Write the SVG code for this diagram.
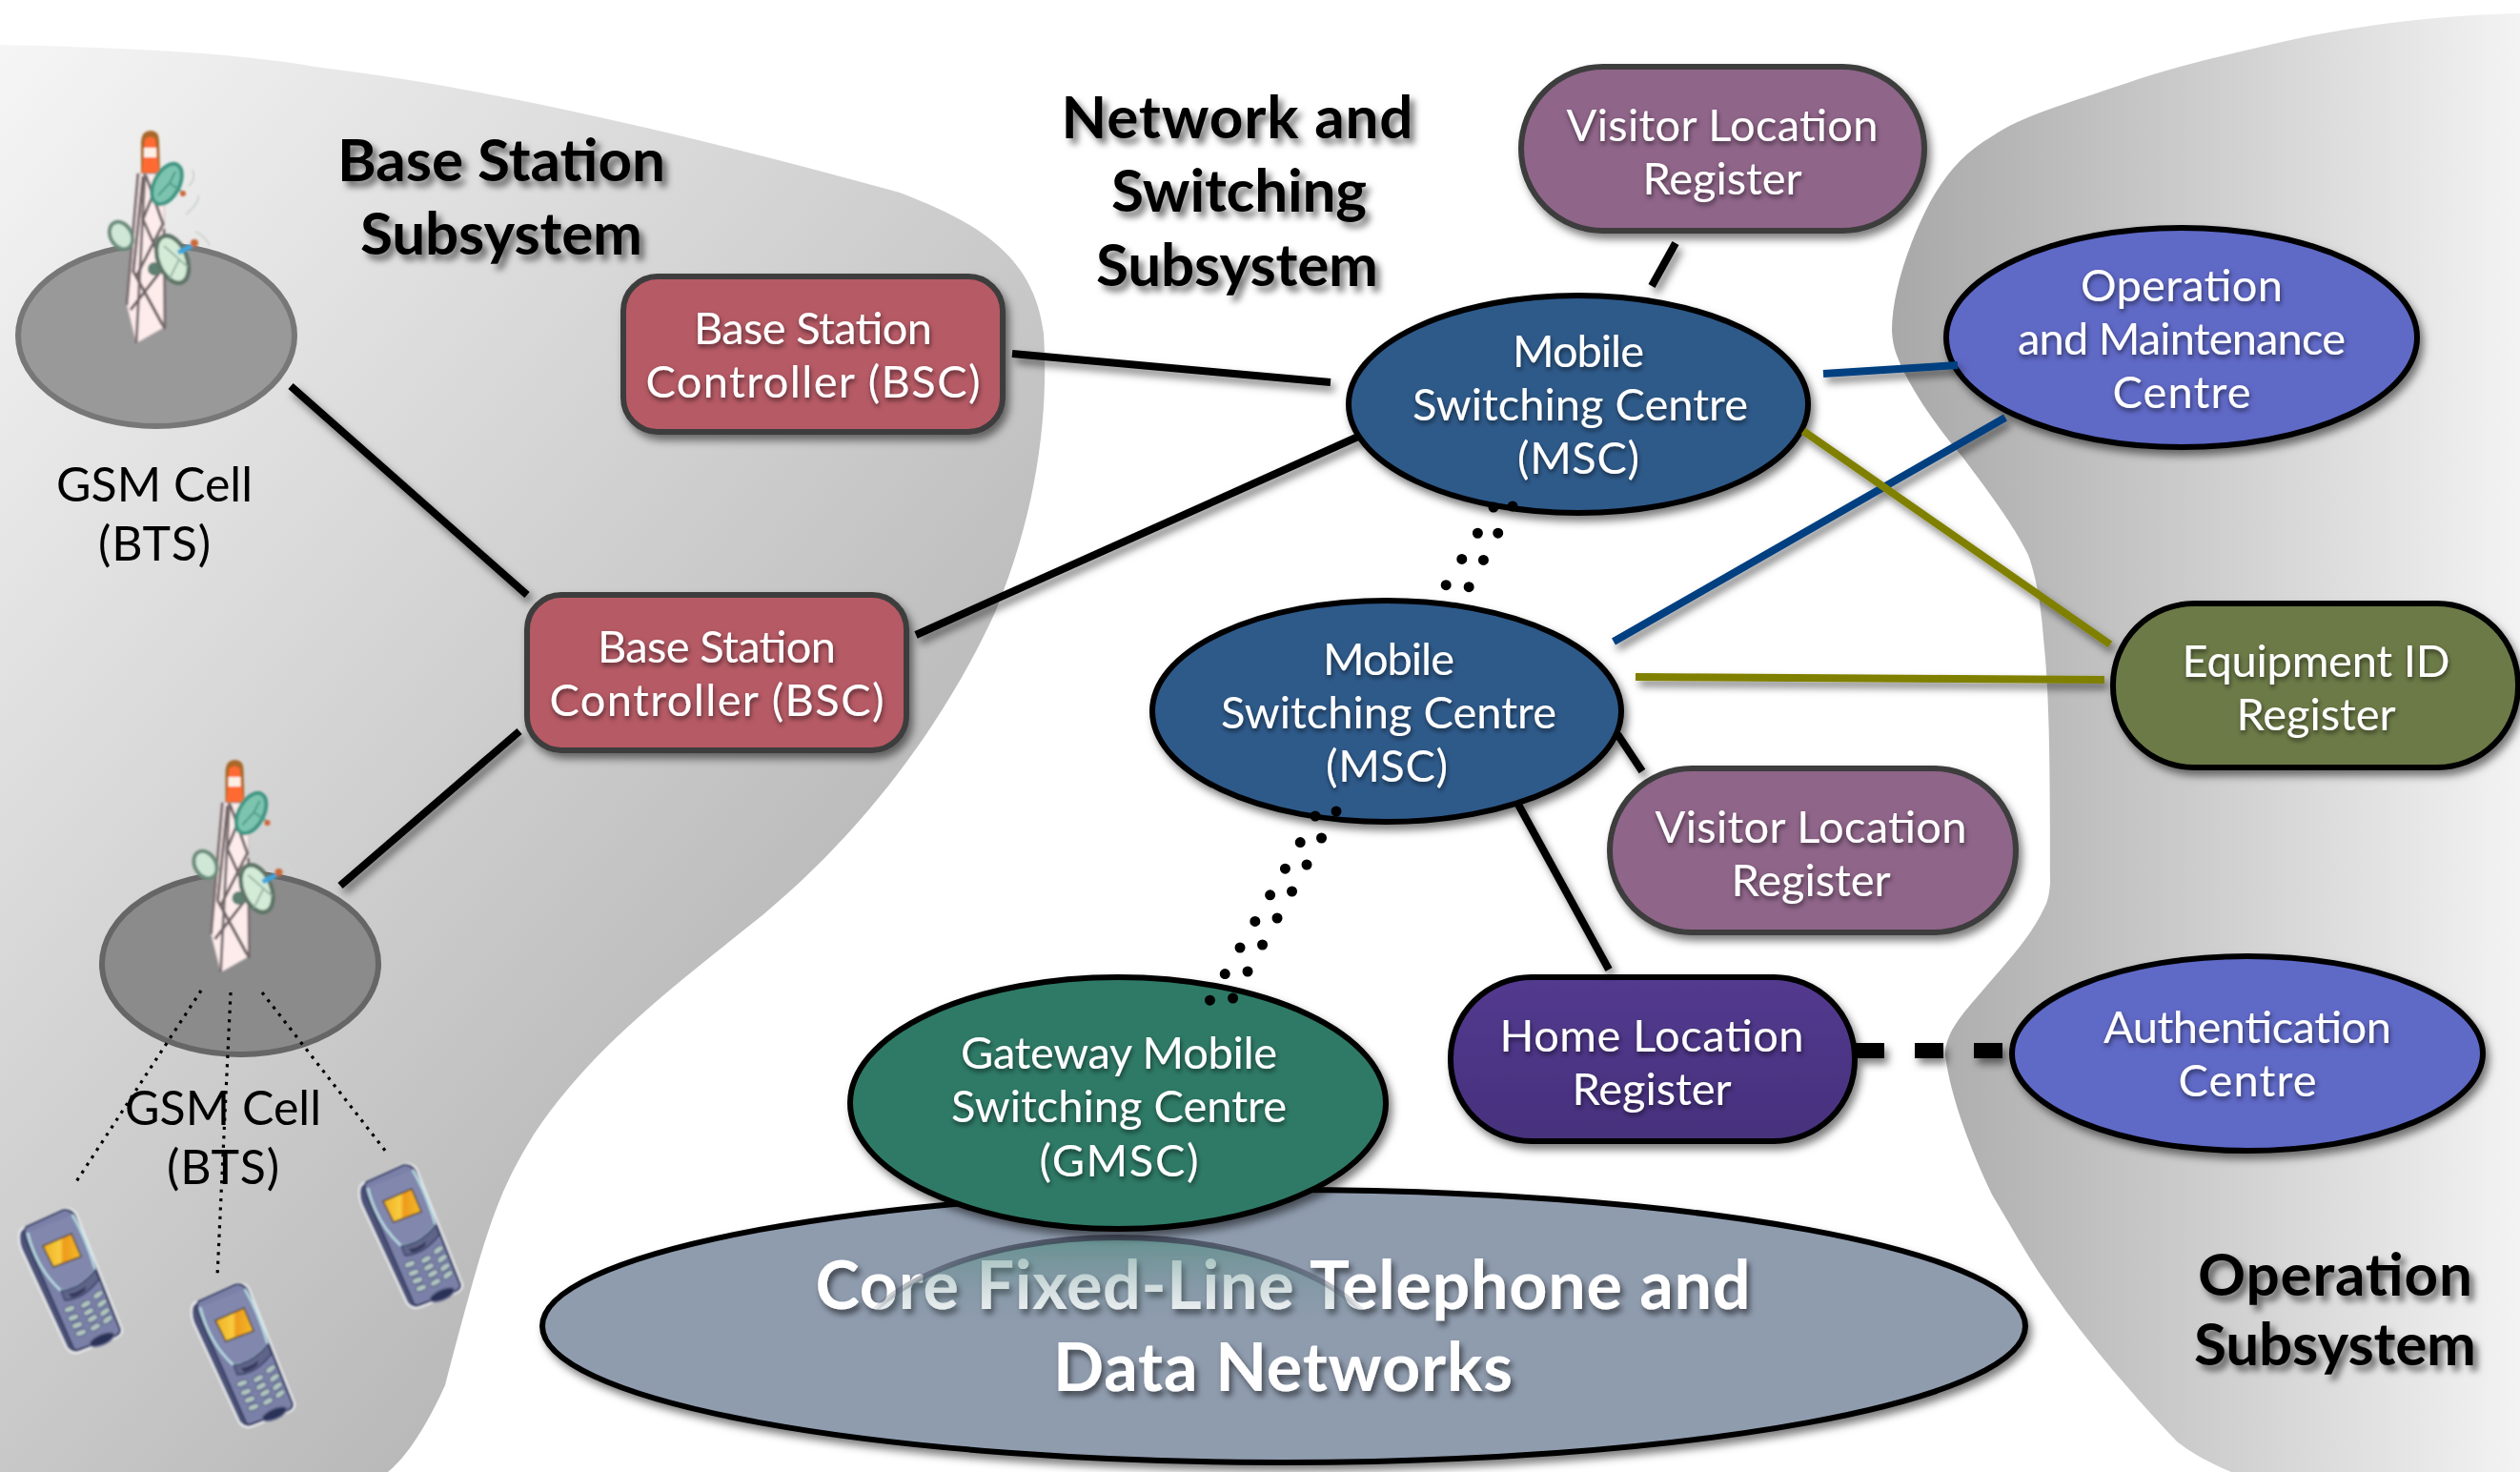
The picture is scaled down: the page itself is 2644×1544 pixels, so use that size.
<svg xmlns="http://www.w3.org/2000/svg" width="2644" height="1544" viewBox="0 0 2644 1544">
<style>
text{font-family:"Lato","Open Sans","Liberation Sans",sans-serif;text-anchor:middle}
.lb{font-size:47px;fill:#fff;filter:url(#ts)}
.hd{font-size:62px;font-weight:700;fill:#000;filter:url(#hs)}
.cell{font-size:50px;fill:#000}
.core{font-size:70px;font-weight:700;fill:#fff;filter:url(#hs2)}
.n{filter:url(#ds)}
.s1{stroke:#3c3c3c;stroke-width:6}
.s2{stroke:#000;stroke-width:6}
.k{stroke:#000;stroke-width:8;fill:none}
.b{stroke:#003f80;stroke-width:8;fill:none}
.o{stroke:#808000;stroke-width:8;fill:none}
.d{stroke:#000;stroke-width:11;stroke-linecap:round;fill:none}
.t{stroke:#000;stroke-width:3.2;stroke-dasharray:3.2 6.2;fill:none}
</style>
<defs>
<linearGradient id="gl" gradientUnits="userSpaceOnUse" x1="0" y1="60" x2="1120" y2="1020"><stop offset="0" stop-color="#f5f5f5"/><stop offset="1" stop-color="#b0b0b0"/></linearGradient>
<linearGradient id="gr" gradientUnits="userSpaceOnUse" x1="1985" y1="0" x2="2644" y2="0"><stop offset="0" stop-color="#a8a8a8"/><stop offset="1" stop-color="#f3f3f3"/></linearGradient>
<linearGradient id="hl" x1="0" y1="0" x2="0" y2="1"><stop offset="0" stop-color="#533a8f"/><stop offset="1" stop-color="#46307c"/></linearGradient>
<linearGradient id="rf" gradientUnits="userSpaceOnUse" x1="0" y1="1298" x2="0" y2="1400"><stop offset="0" stop-color="#4f8c80" stop-opacity=".65"/><stop offset="1" stop-color="#8d9aac" stop-opacity="0"/></linearGradient>
<linearGradient id="rs" gradientUnits="userSpaceOnUse" x1="0" y1="1298" x2="0" y2="1385"><stop offset="0" stop-color="#3c4052" stop-opacity=".8"/><stop offset="1" stop-color="#3c4052" stop-opacity="0"/></linearGradient>
<linearGradient id="scr" x1="0" y1="0" x2="1" y2="0"><stop offset="0" stop-color="#f0b022"/><stop offset=".45" stop-color="#f8cc40"/><stop offset=".55" stop-color="#ee9a1c"/><stop offset="1" stop-color="#f3bd2c"/></linearGradient>
<filter id="ds" filterUnits="userSpaceOnUse" x="0" y="0" width="2644" height="1544"><feDropShadow dx="4" dy="6" stdDeviation="4" flood-color="#000" flood-opacity=".5"/></filter>
<filter id="ts" x="-10%" y="-30%" width="120%" height="170%"><feDropShadow dx="1" dy="3" stdDeviation="2.5" flood-color="#000" flood-opacity=".55"/></filter>
<filter id="hs" x="-10%" y="-30%" width="125%" height="170%"><feDropShadow dx="5" dy="6" stdDeviation="3.5" flood-color="#000" flood-opacity=".55"/></filter>
<filter id="hs2" x="-5%" y="-30%" width="110%" height="170%"><feDropShadow dx="3" dy="5" stdDeviation="3" flood-color="#000" flood-opacity=".55"/></filter>
<filter id="bl" x="-20%" y="-20%" width="140%" height="140%"><feGaussianBlur stdDeviation=".8"/></filter>
<g id="tower" filter="url(#bl)">
<path d="M148 182 L148 148 Q149 137 158 137 Q167 137 167 148 L168 182 Z" fill="#a8682a"/>
<path d="M149 181 L152 146 Q158 141 163 146 L167 181 Z" fill="#ff6b30"/>
<rect x="151" y="155" width="13" height="10" fill="#fbf0e6"/>
<polygon points="145,182 172,183 173,343 143,360 133,320" fill="#fdeceb" stroke="#c9bcbc" stroke-width="1"/>
<path d="M145 182 L133 320 M152 182 L143 360 M172 240 L173 343" stroke="#7c7073" stroke-width="3" fill="none"/>
<path d="M153 184 L171 235 L143 290 L173 345 M168 186 L150 230 L172 280 L137 325 M150 185 L140 285 L170 340" stroke="#6f6466" stroke-width="3" fill="none"/>
<ellipse cx="175" cy="193" rx="13" ry="23" transform="rotate(28 175 193)" fill="#7cc4af" stroke="#3f9583" stroke-width="4"/>
<path d="M166 205 L178 192 L184 180 M178 192 L192 202" stroke="#4d9c8a" stroke-width="2" fill="none"/>
<circle cx="192" cy="203" r="3" fill="#d0663a"/>
<ellipse cx="127" cy="247" rx="11" ry="15" transform="rotate(-30 127 247)" fill="#cfe7d6" stroke="#6d8d7d" stroke-width="4"/>
<circle cx="162" cy="282" r="7" fill="#5f7f72"/>
<ellipse cx="181" cy="272" rx="15" ry="26" transform="rotate(-22 181 272)" fill="#d3ebd7" stroke="#5f7567" stroke-width="4.5"/>
<path d="M172 258 L188 272 L178 292 M188 272 L197 280" stroke="#9cb5a6" stroke-width="2" fill="none"/>
<line x1="187" y1="265" x2="201" y2="258" stroke="#3ea5dc" stroke-width="5"/>
<circle cx="204" cy="255" r="4" fill="#c96a3a"/>
<path d="M198 195 Q206 188 202 178 M195 225 Q210 212 208 205 M205 243 Q216 248 220 258" stroke="#cfd6cf" stroke-width="2" fill="none"/>
</g>
<g id="phone" filter="url(#bl)">
<path d="M0 27 Q0 22 6 19 L46 0 Q56 -1 60 5 L108 126 Q109 132 102 135 L64 150 Q56 153 50 146 L2 42 Q-1 33 0 27Z" fill="#4e5378" stroke="#eef0f4" stroke-width="2"/>
<path d="M7 19 L46 1 Q55 0 58 7 L106 127 Q106 131 100 134 L62 148 Q58 149 56 144 L8 34 Q4 24 7 19Z" fill="#7a80a8" stroke="#353c60" stroke-width="2"/>
<path d="M9 25 Q18 62 44 86 Q64 84 80 64 Q70 30 56 6" fill="#8187ad" stroke="#b9dde2" stroke-width="2.5"/>
<path d="M44 86 Q64 84 80 64 L84 74 Q68 95 48 96 Z" fill="#5f6588" stroke="#39406a" stroke-width="1.5"/>
<path d="M52 89 Q62 88 70 81 L69 86 Q60 93 55 93Z" fill="#34385a"/>
<polygon points="25,39 55,26 65,50 36,61" fill="url(#scr)" stroke="#5a4a20" stroke-width="1.5"/>
<g fill="#b0c4c0" stroke="#4c5478" stroke-width="1"><ellipse cx="53" cy="105" rx="6" ry="3.2" transform="rotate(-20 53 105)"/><ellipse cx="70" cy="100" rx="6" ry="3.2" transform="rotate(-30 70 100)"/><ellipse cx="83" cy="90" rx="6" ry="3.2" transform="rotate(-35 83 90)"/><ellipse cx="57" cy="114" rx="6" ry="3.2" transform="rotate(-20 57 114)"/><ellipse cx="73" cy="108" rx="6" ry="3.2" transform="rotate(-30 73 108)"/><ellipse cx="87" cy="99" rx="6" ry="3.2" transform="rotate(-35 87 99)"/><ellipse cx="61" cy="122" rx="6" ry="3.2" transform="rotate(-20 61 122)"/><ellipse cx="77" cy="115" rx="6" ry="3.2" transform="rotate(-30 77 115)"/><ellipse cx="90" cy="108" rx="6" ry="3.2" transform="rotate(-35 90 108)"/><ellipse cx="65" cy="130" rx="6" ry="3.2" transform="rotate(-20 65 130)"/><ellipse cx="80" cy="124" rx="6" ry="3.2" transform="rotate(-30 80 124)"/><ellipse cx="93" cy="116" rx="6" ry="3.2" transform="rotate(-35 93 116)"/></g>
<ellipse cx="87" cy="137" rx="14" ry="5.5" transform="rotate(-24 87 137)" fill="#2c3058" stroke="#6a7094" stroke-width="1.5"/>
</g>
</defs>
<rect width="2644" height="1544" fill="#fff"/>
<g id="regions">
<path id="region-bss" fill="url(#gl)" d="M0 47 C130 50 250 55 337 71 C500 90 720 140 944 202 C1030 235 1085 270 1095 350 C1100 430 1090 530 1045 640 C1000 740 920 860 800 960 C700 1040 620 1100 560 1190 C520 1255 510 1290 467 1453 C450 1490 430 1525 407 1544 L0 1544 Z" />
<path id="region-oss" fill="url(#gr)" d="M2644 14 C2560 16 2490 25 2422 38 C2340 56 2280 70 2232 87 C2170 108 2120 122 2090 143 C2060 160 2040 185 2025 212 C2000 260 1985 310 1985 347 C1986 365 1990 372 1995 385 C2010 415 2030 445 2058 478 C2090 520 2115 555 2128 582 C2138 610 2142 640 2145 680 C2150 730 2151 800 2151 926 C2150 940 2148 946 2145 952 C2130 985 2100 1015 2075 1045 C2055 1068 2041 1085 2041 1107 C2045 1140 2060 1190 2090 1253 C2115 1295 2130 1322 2147 1346 C2180 1395 2230 1455 2284 1512 C2300 1525 2320 1535 2341 1544 L2644 1544 Z"/>
</g>
<g id="bts1"><ellipse cx="164" cy="352" rx="145" ry="95" fill="#999" stroke="#777" stroke-width="6"/>
<use href="#tower"/>
<text class="cell" x="162" y="526" textLength="206">GSM Cell</text><text class="cell" x="162" y="588" textLength="118">(BTS)</text></g>
<g id="bts2"><ellipse cx="252" cy="1011" rx="145" ry="95" fill="#8b8b8b" stroke="#666" stroke-width="6"/>
<use href="#tower" transform="translate(88.5 660)"/>
<text class="cell" x="234" y="1180" textLength="206">GSM Cell</text><text class="cell" x="234" y="1242" textLength="118">(BTS)</text></g>
<g id="phones"><use href="#phone" transform="translate(20 1268)"/><use href="#phone" transform="translate(201 1346)"/><use href="#phone" transform="translate(377 1221)"/></g>
<g id="core"><ellipse class="n s2" cx="1347" cy="1391" rx="778" ry="143" fill="#8f9cae"/>
<text class="core" x="1346" y="1373" textLength="981">Core Fixed-Line Telephone and</text><text class="core" x="1346" y="1459" textLength="482">Data Networks</text>
<ellipse cx="1173" cy="1431" rx="282" ry="133" fill="url(#rf)" stroke="url(#rs)" stroke-width="6"/></g>
<g id="bsc1"><rect class="n s1" x="654" y="290" width="398" height="163" rx="36" fill="#b65a65"/><text class="lb" x="853" y="361" textLength="250">Base Station</text><text class="lb" x="853" y="417" textLength="351">Controller (BSC)</text></g>
<g id="bsc2"><rect class="n s1" x="553" y="624" width="398" height="163" rx="36" fill="#b65a65"/><text class="lb" x="752" y="695" textLength="250">Base Station</text><text class="lb" x="752" y="751" textLength="351">Controller (BSC)</text></g>
<g id="vlr1"><rect class="n s1" x="1596" y="70" width="423" height="172" rx="86" fill="#8f6589"/><text class="lb" x="1807" y="148" textLength="327">Visitor Location</text><text class="lb" x="1807" y="204" textLength="167">Register</text></g>
<g id="vlr2"><rect class="n s1" x="1689" y="806" width="426" height="172" rx="86" fill="#8f6589"/><text class="lb" x="1900" y="884" textLength="327">Visitor Location</text><text class="lb" x="1900" y="940" textLength="167">Register</text></g>
<g id="msc1"><ellipse class="n s2" cx="1656" cy="424" rx="241" ry="114" fill="#2f5a8a"/><text class="lb" x="1656" y="385" textLength="138">Mobile</text><text class="lb" x="1658" y="441" textLength="352">Switching Centre</text><text class="lb" x="1656" y="497" textLength="128">(MSC)</text></g>
<g id="msc2"><ellipse class="n s2" cx="1455" cy="746" rx="246" ry="116" fill="#2f5a8a"/><text class="lb" x="1457" y="708" textLength="138">Mobile</text><text class="lb" x="1457" y="764" textLength="352">Switching Centre</text><text class="lb" x="1455" y="820" textLength="128">(MSC)</text></g>
<g id="omc"><ellipse class="n s2" cx="2289" cy="354" rx="247" ry="115" fill="#5e69c6"/><text class="lb" x="2289" y="316" textLength="212">Operation</text><text class="lb" x="2289" y="372" textLength="344">and Maintenance</text><text class="lb" x="2289" y="428" textLength="145">Centre</text></g>
<g id="eir"><rect class="n s2" x="2217" y="633" width="425" height="172" rx="85" fill="#6c7a47"/><text class="lb" x="2430" y="710" textLength="281">Equipment ID</text><text class="lb" x="2430" y="766" textLength="167">Register</text></g>
<g id="hlr"><rect class="n s2" x="1522" y="1025" width="424" height="172" rx="85" fill="url(#hl)"/><text class="lb" x="1733" y="1103" textLength="319">Home Location</text><text class="lb" x="1733" y="1159" textLength="167">Register</text></g>
<g id="auc"><ellipse class="n s2" cx="2358" cy="1105" rx="247" ry="102" fill="#5e69c6"/><text class="lb" x="2358" y="1094" textLength="302">Authentication</text><text class="lb" x="2358" y="1150" textLength="145">Centre</text></g>
<g id="gmsc"><ellipse class="n s2" cx="1173" cy="1157" rx="281" ry="132" fill="#2f7a66"/><text class="lb" x="1174" y="1121" textLength="332">Gateway Mobile</text><text class="lb" x="1174" y="1177" textLength="352">Switching Centre</text><text class="lb" x="1174" y="1234" textLength="167">(GMSC)</text></g>
<g id="connectors">
<g filter="url(#ds)">
<line class="k" x1="305" y1="405" x2="553" y2="624"/>
<line class="k" x1="357" y1="929" x2="545" y2="767"/>
<line class="k" x1="1062" y1="371" x2="1396" y2="401"/>
<line class="k" x1="961" y1="666" x2="1425" y2="458"/>
<line class="k" x1="1758" y1="255" x2="1733" y2="300"/>
<line class="k" x1="1697" y1="770" x2="1723" y2="809"/>
<line class="k" x1="1592" y1="842" x2="1688" y2="1017"/>
<line class="b" x1="1913" y1="392" x2="2054" y2="383"/>
<line class="b" x1="1693" y1="673" x2="2104" y2="438"/>
<line class="o" x1="1892" y1="452" x2="2214" y2="676"/>
<line class="o" x1="1716" y1="710" x2="2208" y2="713"/>
<line x1="1947" y1="1102" x2="2106" y2="1102" stroke="#000" stroke-width="16" stroke-dasharray="30 32"/>
</g>
<path class="d" d="M1567 532 L1517 614" stroke-dasharray="0 31.9"/>
<path class="d" d="M1587 531 L1541 616" stroke-dasharray="0 32.1"/>
<path class="d" d="M1380 856 L1269 1050" stroke-dasharray="0 31.8"/>
<path class="d" d="M1402 851 L1293 1048" stroke-dasharray="0 32"/>
<line class="t" x1="211" y1="1039" x2="79" y2="1241"/>
<line class="t" x1="242" y1="1041" x2="228" y2="1339"/>
<line class="t" x1="275" y1="1041" x2="405" y2="1208"/>
</g>
<g id="headings">
<text class="hd" x="526" y="190" textLength="344">Base Station</text><text class="hd" x="526" y="267" textLength="296">Subsystem</text>
<text class="hd" x="1298" y="145" textLength="369">Network and</text><text class="hd" x="1300" y="222" textLength="268">Switching</text><text class="hd" x="1298" y="300" textLength="296">Subsystem</text>
<text class="hd" x="2450" y="1359" textLength="288">Operation</text><text class="hd" x="2450" y="1432" textLength="296">Subsystem</text>
</g>
</svg>
